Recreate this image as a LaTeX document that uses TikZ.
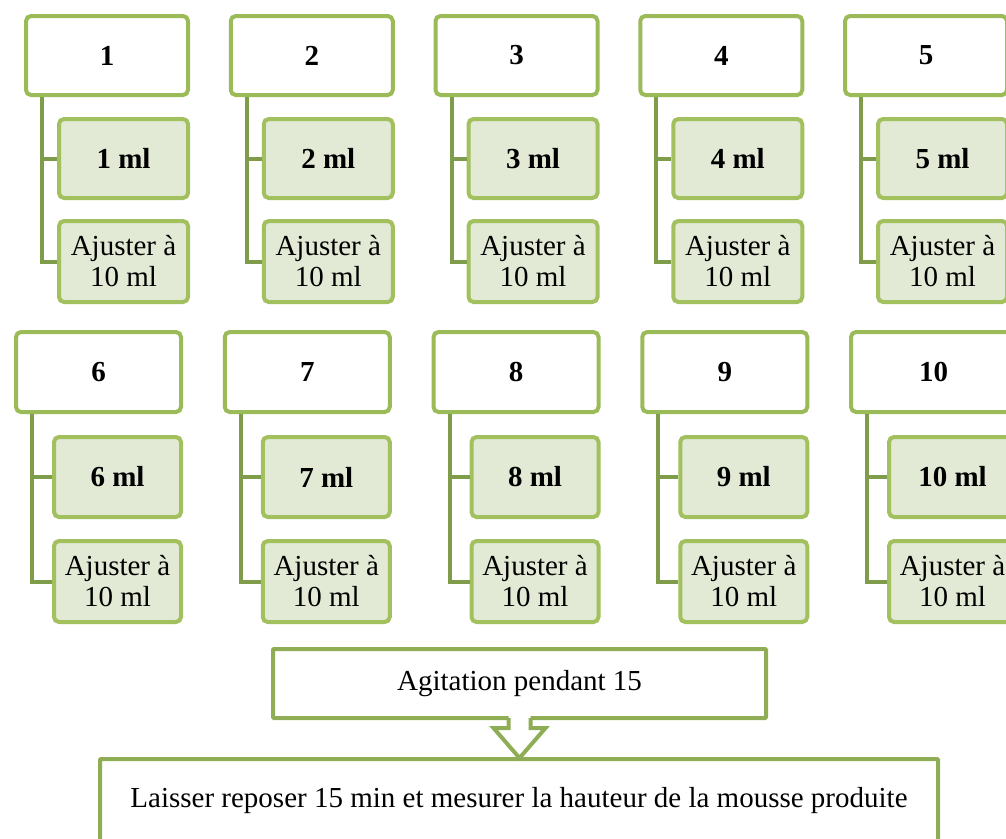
\documentclass[tikz,border=0pt]{standalone}
\usepackage{fontspec}
\setmainfont{Liberation Serif}
\usetikzlibrary{calc}
\definecolor{gborder}{HTML}{9BBB59}
\definecolor{gchild}{HTML}{A2C15E}
\definecolor{gfill}{HTML}{E2E9D4}
\definecolor{gconn}{HTML}{7F9C4A}
\definecolor{gbottom}{HTML}{8FAD55}
\begin{document}
\begin{tikzpicture}[x=1pt,y=-1pt,
  txt/.style={font=\fontsize{29}{31}\selectfont},
  hdr/.style={draw=gborder,line width=4pt,fill=white,rounded corners=5pt,
    minimum height=79pt,inner sep=0pt,anchor=north west,
    font=\fontsize{29}{31}\selectfont\bfseries},
  child/.style={draw=gchild,line width=4pt,fill=gfill,rounded corners=5pt,
    minimum height=79pt,inner sep=0pt,anchor=north west,align=center},
  conn/.style={draw=gconn,line width=4pt},
  flowbox/.style={draw=gbottom,line width=4pt,fill=white,rounded corners=1pt,
    inner sep=0pt,font=\fontsize{29}{31}\selectfont},
  arrowline/.style={draw=gbottom,line width=4pt,line join=miter}
]
\useasboundingbox (0,0) rectangle (1006,838);
% Row 1
\foreach \i in {1,...,5} {
  \pgfmathsetmacro\xl{24+204.75*(\i-1)}
  \pgfmathsetmacro\xc{57+204.75*(\i-1)}
  \node[hdr,minimum width=162pt] (h\i) at (\xl,14) {\i};
  \node[child,minimum width=129pt,font=\fontsize{29}{31}\selectfont\bfseries] (c\i) at (\xc,117) {\i\ ml};
  \node[child,minimum width=129pt,minimum height=81pt,txt] (a\i) at (\xc,219) {Ajuster à\\10 ml};
  \coordinate (t\i) at ([xshift=18pt]h\i.south west);
  \draw[conn] (t\i) |- (c\i.west);
  \draw[conn] (t\i) |- (a\i.west);
}
% Row 2
\foreach \i in {6,...,10} {
  \pgfmathsetmacro\xl{14+208.75*(\i-6)}
  \pgfmathsetmacro\xc{52+208.75*(\i-6)}
  \node[hdr,minimum width=165pt,minimum height=80pt] (h\i) at (\xl,330) {\i};
  \node[child,minimum width=127pt,minimum height=80pt,font=\fontsize{29}{31}\selectfont\bfseries] (c\i) at (\xc,435) {\i\ ml};
  \node[child,minimum width=127pt,minimum height=81pt,txt] (a\i) at (\xc,539) {Ajuster à\\10 ml};
  \coordinate (t\i) at ([xshift=18pt]h\i.south west);
  \draw[conn] (t\i) |- (c\i.west);
  \draw[conn] (t\i) |- (a\i.west);
}
% Bottom flow
\node[flowbox,minimum width=493pt,minimum height=69pt] (ag) at (519.5,683.5) {Agitation pendant 15};
\node[flowbox,minimum width=838pt,minimum height=83pt] (ls) at (519,800.5) {Laisser reposer 15 min et mesurer la hauteur de la mousse produite};
\fill[white] ($(ag.south)+(-11,-6)$) -- ($(ag.south)+(-11,8)$) -- ($(ag.south)+(-26,8)$)
  -- ($(ag.south)+(0,38)$) -- ($(ag.south)+(26,8)$) -- ($(ag.south)+(11,8)$)
  -- ($(ag.south)+(11,-6)$) -- cycle;
\draw[arrowline] ($(ag.south)+(-11,-2)$) -- ($(ag.south)+(-11,8)$) -- ($(ag.south)+(-26,8)$)
  -- ($(ag.south)+(0,38)$) -- ($(ag.south)+(26,8)$) -- ($(ag.south)+(11,8)$)
  -- ($(ag.south)+(11,-2)$);
\end{tikzpicture}
\end{document}
